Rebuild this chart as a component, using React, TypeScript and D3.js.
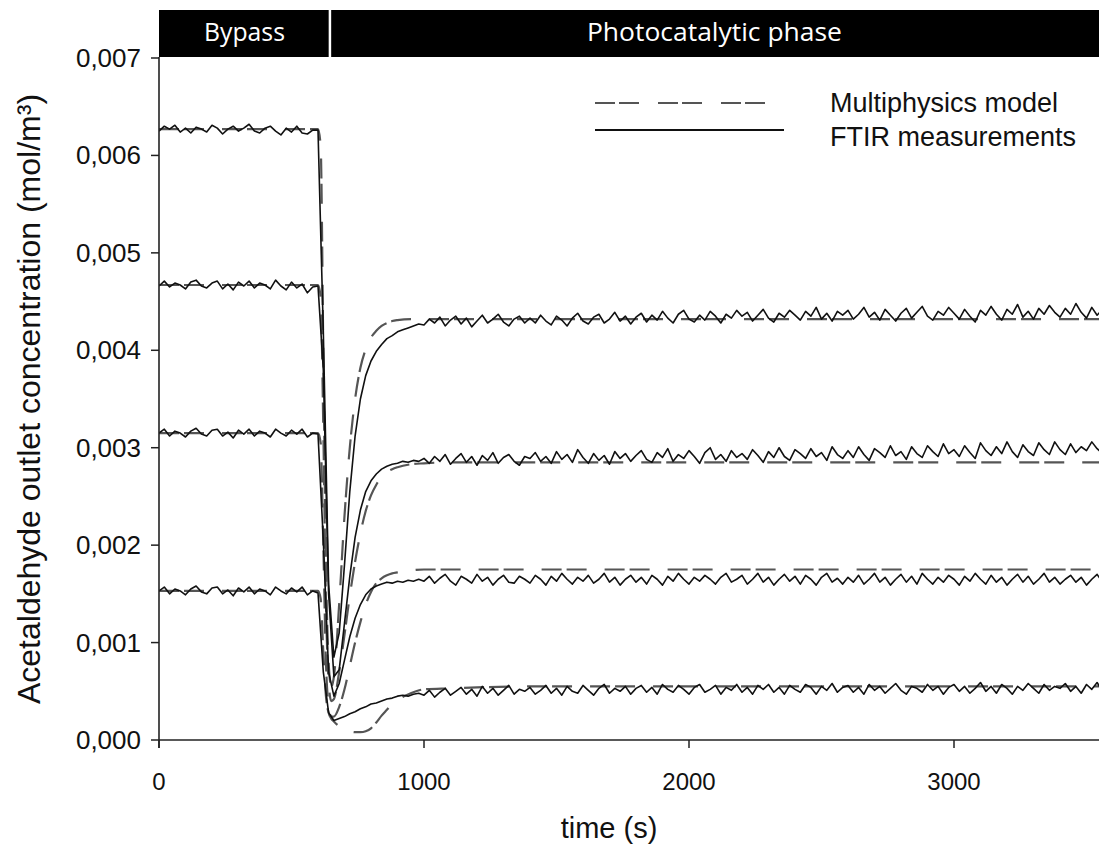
import React from 'react';
import * as d3 from 'd3';

// ---------- data ----------
const xTicks = [0, 1000, 2000, 3000];
const yTicks = [0, 0.001, 0.002, 0.003, 0.004, 0.005, 0.006, 0.007];
const yTickLabels = ['0,000', '0,001', '0,002', '0,003', '0,004', '0,005', '0,006', '0,007'];
const phaseLabels = ['Bypass', 'Photocatalytic phase'];
const phaseBoundary = 645; // s
const legendLabels = ['Multiphysics model', 'FTIR measurements'];
const xTitle = 'time (s)';
const yTitle = 'Acetaldehyde outlet concentration (mol/m³)';

// FTIR measurements, sampled every 20 s from 0 to 3600 s, unit 1e-5 mol/m³
const measStep = 20;
const measA = [
  625,630,627,631,624,628,623,629,627,624,631,628,622,627,630,625,628,632,625,623,628,630,625,621,628,624,630,623,622,626,
  626,420,160,85,110,180,255,312,350,374,389,399,406,412,415,419,421,423,425,427,
  426,432,428,434,425,431,435,427,433,424,430,436,428,432,437,429,425,432,435,428,
  433,428,436,430,426,435,431,425,433,438,430,427,434,437,428,432,439,430,435,427,
  434,438,429,436,431,440,433,428,437,441,432,429,436,431,440,435,428,437,433,441,
  435,439,430,436,442,433,429,438,434,441,436,431,440,435,444,432,438,430,440,436,
  441,432,437,444,434,439,431,442,436,430,438,443,433,439,445,435,431,440,436,444,
  438,432,442,435,429,441,436,445,437,431,442,437,447,434,440,432,443,437,446,439,
  434,443,437,448,439,433,444,436,442,440,437,
];
const measB = [
  466,471,465,469,467,463,470,472,466,464,469,471,463,468,462,470,466,471,464,469,467,463,472,466,462,470,464,468,459,465,
  466,380,150,65,72,120,168,208,236,255,266,273,278,281,283,284,286,285,287,286,
  289,284,291,286,293,283,289,294,285,291,282,292,287,295,284,290,293,286,282,291,
  289,295,286,291,284,296,288,293,285,298,290,284,294,287,292,283,296,289,294,286,
  292,297,288,285,295,290,299,286,293,289,297,291,284,295,300,288,293,286,297,290,
  294,288,298,292,285,296,290,300,291,287,298,294,289,299,291,295,287,301,293,289,
  297,290,301,293,287,299,295,290,302,292,296,288,301,294,290,302,296,291,304,294,
  298,291,302,295,289,305,297,292,301,294,306,296,290,303,296,292,305,298,293,306,
  298,293,304,295,301,297,306,299,294,312,305,
];
const measC = [
  315,319,312,317,315,311,317,320,314,312,318,319,312,316,310,318,314,319,312,317,315,311,319,315,312,318,314,319,311,315,
  314,205,70,45,58,82,106,125,139,149,155,158,160,162,161,163,162,164,163,165,
  163,168,161,166,170,163,159,168,165,161,170,163,167,159,165,169,162,161,168,165,
  161,169,165,159,168,163,171,165,160,167,163,169,161,165,171,162,167,159,165,169,
  162,167,160,169,165,159,168,163,171,165,160,167,163,169,165,160,167,171,162,165,
  169,160,165,171,162,167,159,165,170,163,168,160,169,165,159,167,171,162,166,160,
  167,162,169,160,165,171,162,167,159,165,170,162,168,160,171,165,160,167,162,169,
  165,159,168,163,171,165,160,169,162,167,159,165,170,162,168,160,165,171,162,167,
  160,165,169,162,167,159,165,170,162,161,157,
];
const measD = [
  153,157,150,155,153,149,155,158,152,150,156,157,150,154,148,156,152,157,150,155,153,149,157,153,150,156,152,157,149,153,
  151,70,28,20,22,24,27,29,32,34,37,38,40,42,43,45,46,45,47,48,
  46,51,44,49,53,46,50,54,47,52,45,55,48,53,46,51,56,47,52,50,
  54,47,51,56,48,53,46,55,50,48,56,51,46,53,57,48,53,50,55,47,
  53,56,49,54,47,57,52,49,56,52,47,54,57,49,52,56,47,54,51,57,
  49,54,47,56,52,57,49,54,47,56,52,49,57,54,47,55,51,58,49,54,
  56,49,54,47,57,51,55,48,53,58,51,47,55,53,49,57,51,55,47,54,
  57,50,55,48,53,59,50,55,48,57,53,47,55,51,58,53,48,57,51,55,
  53,58,50,55,48,57,52,59,50,55,58,
];

// Multiphysics model, unit 1e-5 mol/m³
const modelTime = [0, 600, 610, 620, 630, 640, 650, 660, 680, 700, 720, 740, 760, 780, 800, 820, 840, 860, 880, 900, 950, 1000, 1100, 1200, 1400, 3600];
const modelA = [627, 627, 610, 400, 180, 80, 55, 65, 140, 230, 300, 350, 382, 401, 413, 420, 425, 428, 430, 431, 432, 432, 432, 432, 432, 432];
const modelB = [467, 467, 455, 320, 140, 60, 40, 42, 70, 108, 148, 183, 212, 235, 251, 262, 270, 275, 278, 280, 283, 284, 285, 285, 285, 285];
const modelC = [315, 315, 305, 200, 80, 35, 24, 24, 34, 52, 76, 100, 121, 139, 152, 161, 166, 169, 171, 172, 174, 175, 175, 175, 175, 175];
const modelD = [153, 153, 145, 90, 45, 28, 22, 19, 14, 11, 9, 8, 8, 9, 12, 18, 25, 31, 37, 41, 48, 52, 53, 54, 55, 55];

const measured = [measA, measB, measC, measD];
const models = [modelA, modelB, modelC, modelD];
const UNIT = 1e-5;

// ---------- layout ----------
const W = 1099;
const H = 852;
const M = { left: 159, right: 1113, top: 58, bottom: 740 };
const barTop = 10;
const FONT = '"Liberation Sans", Arial, sans-serif';

export default function App() {
  const x = d3.scaleLinear().domain([0, 3600]).range([M.left, M.right]);
  const y = d3.scaleLinear().domain([0, 0.007]).range([M.bottom, M.top]);

  const measLine = d3
    .line<number>()
    .x((_, i) => x(i * measStep))
    .y((d) => y(d * UNIT));
  const modelLine = d3
    .line<number>()
    .x((_, i) => x(modelTime[i]))
    .y((d) => y(d * UNIT))
    .curve(d3.curveMonotoneX);

  const xb = x(phaseBoundary);
  const dash = '20,5,20,18';

  return (
    <svg width={W} height={H} style={{ position: 'absolute', left: 0, top: 0, background: '#fff' }}>
      <defs>
        <clipPath id="plotClip">
          <rect x={M.left} y={M.top - 2} width={W - M.left} height={M.bottom - M.top + 2} />
        </clipPath>
      </defs>
      <rect x={0} y={0} width={W} height={H} fill="#fff" />

      {/* phase bar */}
      <rect x={M.left} y={barTop} width={W - M.left} height={M.top - 1 - barTop} fill="#000" />
      <line x1={xb} x2={xb} y1={barTop} y2={M.top - 1} stroke="#fff" strokeWidth={2.5} />
      <text
        x={(M.left + xb) / 2}
        y={41}
        textAnchor="middle"
        fill="#fff"
        fontFamily='"Open Sans", sans-serif'
        fontSize={25}
        textLength={81}
        lengthAdjust="spacingAndGlyphs"
      >
        {phaseLabels[0]}
      </text>
      <text
        x={(xb + W) / 2}
        y={41}
        textAnchor="middle"
        fill="#fff"
        fontFamily='"Open Sans", sans-serif'
        fontSize={25}
        textLength={255}
        lengthAdjust="spacingAndGlyphs"
      >
        {phaseLabels[1]}
      </text>

      {/* data */}
      <g clipPath="url(#plotClip)">
        {models.map((m, k) => (
          <path
            key={'m' + k}
            d={modelLine(m) || ''}
            fill="none"
            stroke="#555"
            strokeWidth={2.2}
            strokeDasharray={dash}
          />
        ))}
        {measured.map((m, k) => (
          <path
            key={'s' + k}
            d={measLine(m) || ''}
            fill="none"
            stroke="#111"
            strokeWidth={1.6}
            strokeLinejoin="round"
          />
        ))}
      </g>

      {/* axes */}
      <line x1={M.left} x2={M.left} y1={M.top - 1} y2={M.bottom + 8} stroke="#222" strokeWidth={1.6} />
      <line x1={M.left} x2={W} y1={M.bottom} y2={M.bottom} stroke="#222" strokeWidth={1.6} />
      {yTicks.map((t, i) => (
        <g key={'yt' + i}>
          <line x1={M.left - 8} x2={M.left} y1={y(t)} y2={y(t)} stroke="#222" strokeWidth={1.5} />
          <text x={M.left - 18} y={y(t) + 9} textAnchor="end" fontFamily={FONT} fontSize={26} fill="#111">
            {yTickLabels[i]}
          </text>
        </g>
      ))}
      {xTicks.map((t, i) => (
        <g key={'xt' + i}>
          <line x1={x(t)} x2={x(t)} y1={M.bottom} y2={M.bottom + 8} stroke="#222" strokeWidth={1.5} />
          <text x={x(t)} y={790} textAnchor="middle" fontFamily={FONT} fontSize={24} fill="#111">
            {String(t)}
          </text>
        </g>
      ))}

      {/* titles */}
      <text x={609} y={838} textAnchor="middle" fontFamily={FONT} fontSize={29} fill="#111">
        {xTitle}
      </text>
      <text
        transform={`translate(40, 399) rotate(-90)`}
        textAnchor="middle"
        fontFamily={FONT}
        fontSize={32}
        fill="#111"
      >
        {yTitle}
      </text>

      {/* legend */}
      <line x1={595} x2={765} y1={103} y2={103} stroke="#555" strokeWidth={2.2} strokeDasharray="20,4,20,19" />
      <line x1={595} x2={784} y1={130} y2={130} stroke="#111" strokeWidth={1.8} />
      <text x={830} y={112} fontFamily={FONT} fontSize={27} fill="#111">
        {legendLabels[0]}
      </text>
      <text x={830} y={146} fontFamily={FONT} fontSize={27} fill="#111">
        {legendLabels[1]}
      </text>
    </svg>
  );
}
